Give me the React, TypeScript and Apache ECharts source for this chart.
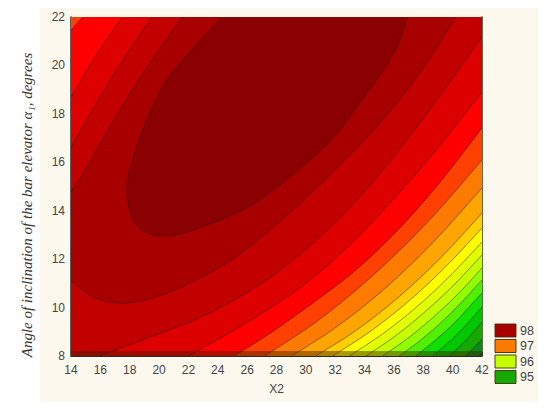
import React, { useEffect, useRef } from 'react';
import * as echarts from 'echarts';

type Pt = [number, number];

// ---- axes ----
const X_MIN = 14;
const X_MAX = 42;
const X_STEP = 2;
const Y_MIN = 8;
const Y_MAX = 22;
const Y_STEP = 2;

// ---- contour levels (highest first) ----
const levels = [98.2, 98.0, 97.8, 97.6, 97.4, 97.2, 97.0, 96.8, 96.6, 96.4, 96.2, 96.0, 95.8, 95.6, 95.4, 95.2, 95.0, 94.8];

// ---- contour lines (x, y) ----
const contour982: Pt[] = [[24.3, 22], [22.3, 20.7], [20.4, 19.27], [19.0, 17.5], [18.1, 15.9], [17.8, 14.9], [18.1, 13.8], [19.0, 13.15], [20.5, 12.95], [22.8, 13.3], [26.2, 14.2], [29.6, 15.75], [31.85, 17.0], [33.6, 18.4], [35.2, 19.75], [36.3, 20.9], [36.9, 22]];
const contour980Upper: Pt[] = [[21.56, 22], [18.6, 19.4], [16.5, 17.3], [14.95, 15.68], [14, 14.77]];
const contour980Lower: Pt[] = [[14, 11.1], [15.5, 10.45], [17, 10.2], [19, 10.3], [21.5, 10.85], [25, 12.0], [28.5, 13.7], [32, 15.7], [35.4, 17.87], [38, 19.9], [40.2, 22]];
const contour978Upper: Pt[] = [[19.5, 22], [17.3, 20.0], [15.5, 18.2], [14, 16.6]];
const contour978Lower: Pt[] = [[15.93, 8], [19, 8.7], [22.7, 9.57], [26.2, 10.7], [29.1, 11.96], [32.3, 13.7], [35.4, 15.8], [38.7, 18.4], [42, 21.17]];
const contour976Upper: Pt[] = [[17.5, 22], [15.7, 20.4], [14, 18.7]];
const contour976Lower: Pt[] = [[22.0, 8], [26.3, 9.5], [30, 11.0], [33, 12.6], [36, 14.5], [39, 16.6], [42, 18.9]];
const contour974Upper: Pt[] = [[14.8, 22], [14, 21.45]];
const contour974Lower: Pt[] = [[25.1, 8], [27.6, 8.95], [30.5, 10.2], [33.5, 11.6], [36.5, 13.35], [39.3, 15.3], [42, 17.42]];
const contour972: Pt[] = [[27.2, 8], [30.9, 9.5], [34.6, 11.35], [38.3, 13.54], [42, 16.09]];
const contour970: Pt[] = [[29.05, 8], [32.29, 9.29], [35.53, 10.87], [38.76, 12.76], [42, 14.94]];
const contour968: Pt[] = [[30.69, 8], [33.52, 9.1], [36.35, 10.45], [39.17, 12.05], [42, 13.9]];
const contour966: Pt[] = [[31.83, 8], [34.37, 9.01], [36.92, 10.22], [39.46, 11.65], [42, 13.28]];
const contour964: Pt[] = [[32.96, 8], [35.22, 8.91], [37.48, 9.99], [39.74, 11.26], [42, 12.7]];
const contour962: Pt[] = [[34.1, 8], [36.08, 8.82], [38.05, 9.79], [40.03, 10.9], [42, 12.17]];
const contour960: Pt[] = [[35.23, 8], [36.92, 8.72], [38.62, 9.57], [40.31, 10.53], [42, 11.63]];
const contour958: Pt[] = [[36.37, 8], [37.78, 8.64], [39.19, 9.37], [40.59, 10.21], [42, 11.14]];
const contour956: Pt[] = [[37.5, 8], [39.75, 9.15], [42, 10.6]];
const contour954: Pt[] = [[38.64, 8], [40.32, 8.91], [42, 10.02]];
const contour952: Pt[] = [[39.77, 8], [40.89, 8.64], [42, 9.4]];
const contour950: Pt[] = [[40.9, 8], [42, 8.7]];
const contour948: Pt[] = [[41.8, 8], [42, 8.12]];

const contourPieces: Pt[][][] = [
  [contour982],
  [contour980Upper, contour980Lower],
  [contour978Upper, contour978Lower],
  [contour976Upper, contour976Lower],
  [contour974Upper, contour974Lower],
  [contour972],
  [contour970],
  [contour968],
  [contour966],
  [contour964],
  [contour962],
  [contour960],
  [contour958],
  [contour956],
  [contour954],
  [contour952],
  [contour950],
  [contour948],
];

// ---- legend ----
const legendLabels = ['98', '97', '96', '95'];
const legendBands = [1, 6, 11, 16];

// ---- styles ----
const bandColors = [
  '#8b0000', '#a80000', '#c20000', '#dc0000', '#ff0000', '#ff4000', '#ff7a00', '#ffa500', '#ffcf00',
  '#ffff00', '#e0ff00', '#c4ff00', '#90ff00', '#50f000', '#10e000', '#00c800', '#16aa00', '#0a8a1a', '#0a6a28',
];
const SANS = '"Liberation Sans", Arial, sans-serif';

function perimS(p: Pt): number {
  const [x, y] = p;
  const e = 1e-6;
  if (Math.abs(y - Y_MIN) < e) return (x - X_MIN) / (X_MAX - X_MIN);
  if (Math.abs(x - X_MAX) < e) return 1 + (y - Y_MIN) / (Y_MAX - Y_MIN);
  if (Math.abs(y - Y_MAX) < e) return 2 + (X_MAX - x) / (X_MAX - X_MIN);
  return 3 + (Y_MAX - y) / (Y_MAX - Y_MIN);
}

const corners: [number, Pt][] = [
  [0, [X_MIN, Y_MIN]],
  [1, [X_MAX, Y_MIN]],
  [2, [X_MAX, Y_MAX]],
  [3, [X_MIN, Y_MAX]],
];

function catmull(pts: number[][], n = 10): number[][] {
  if (pts.length < 3) return pts;
  const out: number[][] = [];
  for (let i = 0; i < pts.length - 1; i++) {
    const p1 = pts[i];
    const p2 = pts[i + 1];
    const p0 = i > 0 ? pts[i - 1] : [2 * p1[0] - p2[0], 2 * p1[1] - p2[1]];
    const p3 = i < pts.length - 2 ? pts[i + 2] : [2 * p2[0] - p1[0], 2 * p2[1] - p1[1]];
    for (let j = 0; j < n; j++) {
      const t = j / n;
      const t2 = t * t;
      const t3 = t2 * t;
      out.push([0, 1].map(
        (d) => 0.5 * (2 * p1[d] + (-p0[d] + p2[d]) * t + (2 * p0[d] - 5 * p1[d] + 4 * p2[d] - p3[d]) * t2 + (-p0[d] + 3 * p1[d] - 3 * p2[d] + p3[d]) * t3)
      ));
    }
  }
  out.push(pts[pts.length - 1]);
  return out;
}

function regionOutline(pieces: Pt[][], toPx: (p: Pt) => number[]): number[][] {
  const out: number[][] = [];
  const visited = new Set<number>();
  let idx = 0;
  for (let guard = 0; guard <= pieces.length; guard++) {
    visited.add(idx);
    const piece = pieces[idx];
    out.push(...catmull(piece.map(toPx)));
    const endS = perimS(piece[piece.length - 1]);
    let best = 0;
    let bestD = Infinity;
    pieces.forEach((pc, j) => {
      const d = (perimS(pc[0]) - endS + 4) % 4;
      if (d < bestD) {
        bestD = d;
        best = j;
      }
    });
    corners
      .filter(([s]) => {
        const d = (s - endS + 4) % 4;
        return d > 0 && d < bestD;
      })
      .sort((a, b) => ((a[0] - endS + 4) % 4) - ((b[0] - endS + 4) % 4))
      .forEach(([, c]) => out.push(toPx(c)));
    if (visited.has(best)) break;
    idx = best;
  }
  return out;
}

export default function App() {
  const ref = useRef<HTMLDivElement>(null);

  useEffect(() => {
    document.body.style.margin = '0';
    if (!ref.current) return;
    const chart = echarts.init(ref.current, undefined, { renderer: 'svg' });

    const fillData = [[-1, levels[levels.length - 1]], ...levels.map((lv, k) => [k, lv]).reverse()];
    const lineData = levels.map((lv, k) => [k, lv]);

    const legendItems: any[] = [];
    legendLabels.forEach((lab, i) => {
      const y = 324 + i * 15.5;
      legendItems.push({
        type: 'rect',
        z: 10,
        shape: { x: 495, y, width: 21, height: 13 },
        style: { fill: bandColors[legendBands[i]], stroke: 'rgba(70,45,10,0.9)', lineWidth: 1 },
      });
      legendItems.push({
        type: 'text',
        z: 10,
        x: 520,
        y: y + 6.5,
        style: { text: lab, fill: '#444', fontSize: 12.5, fontFamily: SANS, verticalAlign: 'middle', align: 'left' },
      });
    });

    const option: any = {
      animation: false,
      backgroundColor: '#ffffff',
      grid: { left: 71, top: 17, width: 411, height: 339, containLabel: false },
      xAxis: [
        {
          type: 'value',
          min: X_MIN,
          max: X_MAX,
          interval: X_STEP,
          position: 'bottom',
          name: 'X2',
          nameLocation: 'middle',
          nameGap: 27,
          nameTextStyle: { color: '#444', fontSize: 12, fontFamily: SANS },
          axisLine: { show: true, onZero: false, lineStyle: { color: '#2b2b2b', width: 1 } },
          axisTick: { show: true, inside: true, length: 4, lineStyle: { color: '#333' } },
          axisLabel: { color: '#444', fontSize: 12, margin: 8, fontFamily: SANS },
          splitLine: { show: false },
        },
        {
          type: 'value',
          min: X_MIN,
          max: X_MAX,
          interval: X_STEP,
          position: 'top',
          axisLine: { show: true, onZero: false, lineStyle: { color: '#c8324e', width: 1 } },
          axisTick: { show: false },
          axisLabel: { show: false },
          splitLine: { show: false },
        },
      ],
      yAxis: [
        {
          type: 'value',
          min: Y_MIN,
          max: Y_MAX,
          interval: Y_STEP,
          position: 'left',
          name: 'Angle of inclination of the bar elevator α₁, degrees',
          nameLocation: 'middle',
          nameGap: 37,
          nameRotate: 90,
          nameTextStyle: {
            color: '#333',
            fontSize: 15,
            fontStyle: 'italic',
            fontFamily: '"Liberation Serif", "DejaVu Serif", serif',
            padding: [0, 37, 0, 0],
          },
          axisLine: { show: true, onZero: false, lineStyle: { color: '#2b2b2b', width: 1.5 } },
          axisTick: { show: true, inside: true, length: 4, lineStyle: { color: '#333' } },
          axisLabel: { color: '#444', fontSize: 12, margin: 6, fontFamily: SANS },
          splitLine: { show: false },
        },
        {
          type: 'value',
          min: Y_MIN,
          max: Y_MAX,
          interval: Y_STEP,
          position: 'right',
          axisLine: { show: true, onZero: false, lineStyle: { color: '#2f3a1a', width: 1.5 } },
          axisTick: { show: true, inside: true, length: 3, lineStyle: { color: '#333' } },
          axisLabel: { show: false },
          splitLine: { show: false },
        },
      ],
      graphic: [
        { type: 'rect', z: -10, silent: true, shape: { x: 40, y: 8, width: 498, height: 394 }, style: { fill: '#fcf8ee' } },
        { type: 'rect', z: 10, silent: true, shape: { x: 71, y: 351, width: 411, height: 5 }, style: { fill: 'rgba(70,30,0,0.45)' } },
        ...legendItems,
      ],
      series: [
        {
          type: 'custom',
          coordinateSystem: 'cartesian2d',
          clip: true,
          silent: true,
          z: 2,
          data: fillData,
          renderItem: (params: any, api: any) => {
            const k = api.value(0);
            const toPx = (p: Pt) => api.coord(p);
            if (k < 0) {
              const a = api.coord([X_MIN, Y_MAX]);
              const b = api.coord([X_MAX, Y_MIN]);
              return {
                type: 'rect',
                shape: { x: a[0], y: a[1], width: b[0] - a[0], height: b[1] - a[1] },
                style: { fill: bandColors[levels.length] },
              };
            }
            return {
              type: 'polygon',
              shape: { points: regionOutline(contourPieces[k], toPx) },
              style: { fill: bandColors[k] },
            };
          },
        },
        {
          type: 'custom',
          coordinateSystem: 'cartesian2d',
          clip: true,
          silent: true,
          z: 3,
          data: lineData,
          renderItem: (params: any, api: any) => {
            const k = api.value(0);
            const toPx = (p: Pt) => api.coord(p);
            return {
              type: 'group',
              children: contourPieces[k].map((pc) => ({
                type: 'polyline',
                shape: { points: catmull(pc.map(toPx)) },
                style: { stroke: 'rgba(35,10,0,0.6)', lineWidth: 0.8, fill: null },
              })),
            };
          },
        },
      ],
    };

    chart.setOption(option);
    return () => chart.dispose();
  }, []);

  return <div ref={ref} style={{ width: 550, height: 409 }} />;
}
